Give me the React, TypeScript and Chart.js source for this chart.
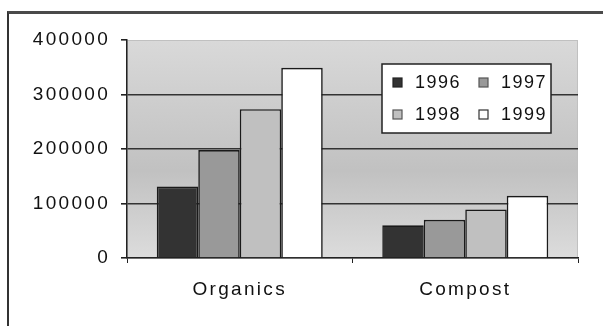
import { useEffect, useRef } from 'react';
import { Chart, registerables } from 'chart.js';

Chart.register(...registerables);

// Tonnes diverted per stream, by year
const categories = ['Organics', 'Compost'];
const years = ['1996', '1997', '1998', '1999'];
const values1996 = [131000, 60000];
const values1997 = [198000, 70000];
const values1998 = [273000, 89000];
const values1999 = [349000, 114000];
const yTickValues = [0, 100000, 200000, 300000, 400000];

const seriesValues = [values1996, values1997, values1998, values1999];
const seriesFills = ['#333333', '#999999', '#c0c0c0', '#ffffff'];
const markerEdges = ['#222222', '#555555', '#555555', '#333333'];

const FONT_FAMILY = '"Liberation Sans", Arial, sans-serif';
const TEXT_COLOR = '#111111';

// Shaded plot background plus a faint frame around it
const plotBackground = {
  id: 'plotBackground',
  beforeDraw(chart: any) {
    const { ctx, chartArea } = chart;
    const { left, top, right, bottom } = chartArea;
    ctx.letterSpacing = '2.3px';
    ctx.save();
    const g = ctx.createLinearGradient(0, top, 0, bottom);
    g.addColorStop(0, '#d9d9d9');
    g.addColorStop(0.6, '#c1c1c1');
    g.addColorStop(1, '#dcdcdc');
    ctx.fillStyle = g;
    ctx.fillRect(left, top, right - left, bottom - top);
    ctx.strokeStyle = '#c0c0c0';
    ctx.lineWidth = 1;
    ctx.strokeRect(left + 0.5, top + 0.5, right - left - 1, bottom - top);
    ctx.restore();
  },
};

// Boxed two-column legend sitting inside the plot area
const insetLegend = {
  id: 'insetLegend',
  afterDatasetsDraw(chart: any) {
    const { ctx, chartArea } = chart;
    const w = 169;
    const h = 69;
    const x = chartArea.right - 27 - w;
    const y = chartArea.top + 24;
    ctx.save();
    ctx.fillStyle = '#ffffff';
    ctx.fillRect(x, y, w, h);
    ctx.strokeStyle = '#222222';
    ctx.lineWidth = 1.5;
    ctx.strokeRect(x, y, w, h);
    ctx.font = `18px ${FONT_FAMILY}`;
    ctx.letterSpacing = '1.5px';
    ctx.textAlign = 'left';
    ctx.textBaseline = 'middle';
    chart.data.datasets.forEach((ds: any, i: number) => {
      const col = i % 2;
      const row = Math.floor(i / 2);
      const mx = x + 11 + col * 86;
      const my = y + 14 + row * 32;
      ctx.fillStyle = seriesFills[i];
      ctx.fillRect(mx, my, 9, 9);
      ctx.strokeStyle = markerEdges[i];
      ctx.lineWidth = 1.2;
      ctx.strokeRect(mx, my, 9, 9);
      ctx.fillStyle = TEXT_COLOR;
      ctx.fillText(ds.label, mx + 22, my + 5);
    });
    ctx.restore();
  },
};

export default function App() {
  const canvasRef = useRef<HTMLCanvasElement | null>(null);

  useEffect(() => {
    const canvas = canvasRef.current;
    if (!canvas) return;
    const chart = new Chart(canvas, {
      type: 'bar',
      data: {
        labels: categories,
        datasets: years.map((year, i) => ({
          label: year,
          data: seriesValues[i],
          backgroundColor: seriesFills[i],
          borderColor: '#1a1a1a',
          borderWidth: 1.6,
          categoryPercentage: 0.736,
          barPercentage: 1,
        })),
      },
      options: {
        responsive: false,
        animation: false,
        layout: { padding: { top: 40, right: 25, left: 0, bottom: 0 } },
        plugins: {
          legend: { display: false },
          tooltip: { enabled: false },
          title: { display: false },
        },
        scales: {
          x: {
            afterFit(scale: any) {
              scale.height = 68;
            },
            border: { color: '#222222', width: 1.5 },
            grid: {
              drawOnChartArea: false,
              drawTicks: true,
              tickLength: 5,
              tickColor: '#222222',
              offset: true,
            },
            ticks: {
              color: TEXT_COLOR,
              padding: 15,
              font: { family: FONT_FAMILY, size: 19 },
            },
          },
          y: {
            min: 0,
            max: 400000,
            afterFit(scale: any) {
              scale.width = 127;
            },
            afterBuildTicks(scale: any) {
              scale.ticks = yTickValues.map((v) => ({ value: v }));
            },
            border: { color: '#222222', width: 1.5 },
            grid: {
              color: (c: any) =>
                c.tick && (c.tick.value === 400000 || c.tick.value === 0)
                  ? 'rgba(0,0,0,0)'
                  : '#333333',
              lineWidth: 1.6,
              tickLength: 6,
              tickColor: '#222222',
            },
            ticks: {
              color: TEXT_COLOR,
              padding: 11,
              font: { family: FONT_FAMILY, size: 19 },
              callback: (v: any) => String(v),
            },
          },
        },
      },
      plugins: [plotBackground, insetLegend],
    });
    return () => chart.destroy();
  }, []);

  return (
    <div
      style={{
        position: 'fixed',
        left: 0,
        top: 0,
        width: 603,
        height: 326,
        background: '#ffffff',
        overflow: 'hidden',
      }}
    >
      <div
        style={{
          position: 'absolute',
          left: 7,
          top: 11,
          right: -10,
          bottom: -10,
          borderTop: '3px solid #4a4a4a',
          borderLeft: '2px solid #333333',
        }}
      />
      <canvas
        ref={canvasRef}
        width={603}
        height={326}
        style={{ position: 'absolute', left: 0, top: 0, width: 603, height: 326 }}
      />
    </div>
  );
}
